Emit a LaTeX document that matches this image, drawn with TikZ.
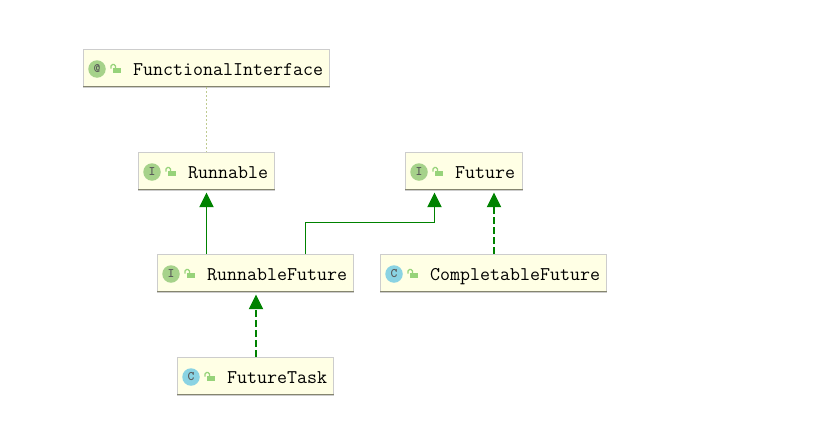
\documentclass[tikz,border=0pt]{standalone}
\usepackage{tikz}
\usetikzlibrary{arrows.meta}
\definecolor{boxfill}{HTML}{FFFFE5}
\definecolor{boxedge}{HTML}{CDCDCD}
\definecolor{boxfoot}{HTML}{85856F}
\definecolor{linkgreen}{HTML}{008200}
\definecolor{lockgreen}{HTML}{97D37A}
\definecolor{ifacegreen}{HTML}{A6D28A}
\definecolor{classblue}{HTML}{8AD3E3}
\definecolor{noteline}{HTML}{BFCB90}
\tikzset{
  umlbox/.style={draw=boxedge,fill=boxfill,line width=1pt,anchor=north west,minimum height=37pt,inner sep=0pt},
  umlicon/.style={circle,minimum size=17.5pt,inner sep=0pt,text=black!65,font=\ttfamily\bfseries\fontsize{13}{13}\selectfont},
  umllabel/.style={anchor=base west,inner sep=0pt,font=\ttfamily\fontsize{19.4}{19.4}\selectfont},
  extendsline/.style={draw=linkgreen,line width=1.25pt,-{Triangle[length=14.5pt,width=14.3pt]}},
  implline/.style={extendsline,line width=1.1pt,dash pattern=on 7pt off 3pt},
  noteedge/.style={draw=noteline,line width=0.9pt,dash pattern=on 2pt off 2pt},
  lockmark/.pic={
    \fill[lockgreen] (-4,-2.5) rectangle (4,2.5);
    \draw[lockgreen,line width=1.1pt,rounded corners=1.5pt] (-1.5,-2.5) -- (-1.5,-6) -- (-6,-6) -- (-6,-2);
  }
}
\begin{document}
\begin{tikzpicture}[x=1pt,y=-1pt]
  \useasboundingbox (0,0) rectangle (821,434);
  % boxes: name / left / top / width / icon colour / icon letter / label
  \foreach \nm/\xl/\yt/\bw/\col/\ltr/\lbl in {
    anno/83/49/246/ifacegreen/@/FunctionalInterface,
    run/138/152/136/ifacegreen/I/Runnable,
    fut/405/152/117/ifacegreen/I/Future,
    rfut/157/254/196/ifacegreen/I/RunnableFuture,
    cfut/380/254/226/classblue/C/CompletableFuture,
    task/177/357/156/classblue/C/FutureTask}{
    \node[umlbox,minimum width=\bw pt] (\nm) at (\xl,\yt) {};
    \draw[boxfoot,line width=1pt] ([yshift=0.5pt]\nm.south west) -- ([yshift=0.5pt]\nm.south east);
    \draw[boxedge,line width=1pt] ([yshift=-0.5pt]\nm.south west) -- ([yshift=-0.5pt]\nm.south east);
    \node[umlicon,fill=\col] (\nm icon) at (\xl+14,\yt+20) {\ltr};
    \pic at (\xl+34,\yt+21.5) {lockmark};
    \node[umllabel] (\nm label) at (\xl+50,\yt+26.5) {\lbl};
  }
  % links between the boxes
  \draw[noteedge] (anno.south) -- (run.north);
  \coordinate (rfutout) at ([xshift=50pt]rfut.north);
  \coordinate (futin) at ([xshift=-29.5pt,yshift=-2.7pt]fut.south);
  \coordinate (futbend) at (futin |- 0,222.5);
  \coordinate (runin) at ([yshift=-2.7pt]run.south);
  \coordinate (cfutout) at ([xshift=0.5pt]cfut.north);
  \coordinate (taskout) at ([xshift=0.5pt]task.north);
  \coordinate (rfutin) at ([xshift=0.5pt,yshift=-2.7pt]rfut.south);
  \draw[extendsline] (rfut.north -| runin) -- (runin);
  \draw[extendsline] (rfutout) |- (futbend) -- (futin);
  \draw[implline] (cfutout) -- (cfutout |- futin);
  \draw[implline] (taskout) -- (rfutin);
\end{tikzpicture}
\end{document}
